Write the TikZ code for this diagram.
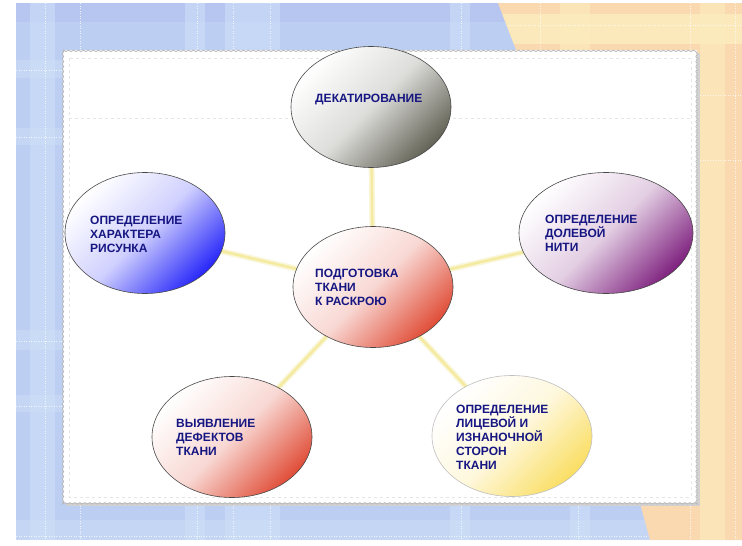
\documentclass[tikz,border=0pt]{standalone}
\usepackage{fontspec}
\setmainfont{Liberation Sans}
\usetikzlibrary{shapes.geometric,decorations.pathmorphing}
\pgfdeclarelayer{bg}
\pgfdeclarelayer{lines}
\pgfsetlayers{bg,lines,main}
\definecolor{txt}{RGB}{22,22,130}
\definecolor{bgblue}{RGB}{188,207,242}
\definecolor{bgblueL}{RGB}{206,222,248}
\definecolor{bgblueD}{RGB}{178,192,240}
\definecolor{peach}{RGB}{250,216,176}
\definecolor{peachL}{RGB}{252,236,190}
\definecolor{conncol}{RGB}{244,234,160}
\definecolor{connglow}{RGB}{250,246,218}
\definecolor{cgrey}{RGB}{100,100,88}
\definecolor{cblue}{RGB}{40,40,250}
\definecolor{cpurple}{RGB}{128,36,128}
\definecolor{cred}{RGB}{224,78,56}
\definecolor{cyellow}{RGB}{250,222,100}
\tikzset{
  bub/.style={ellipse, draw=black!72, line width=0.6pt, inner sep=0pt,
    minimum width=160pt, minimum height=121pt,
    top color=white, bottom color=#1, middle color=#1!22!white, shading angle=45},
  lbl/.style={font=\bfseries\fontsize{12pt}{14pt}\selectfont, text=txt,
    align=left, inner sep=0pt, anchor=west},
  conn/.style={conncol, line width=2.6pt},
  glow/.style={connglow, line width=6pt},
  plaid/.style={white, opacity=0.75, line width=1pt, dash pattern=on 1pt off 1.5pt}
}
\begin{document}
\begin{tikzpicture}[x=1pt,y=-1pt]
\useasboundingbox (0,0) rectangle (742,546);
\begin{pgfonlayer}{bg}
  \fill[white] (0,0) rectangle (742,546);
  % blue plaid background
  \fill[bgblue] (16,3) rectangle (742,540);
  \fill[bgblueD, opacity=0.6] (16,3) rectangle (742,22);
  \foreach \a/\b in {30/55,185/205,225/280,450/470,570/590}
    \fill[bgblueL, opacity=0.6] (\a,3) rectangle (\b,540);
  \foreach \a/\b in {60/78,128/145,330/350,395/412,520/540}
    \fill[bgblueL, opacity=0.5] (16,\a) rectangle (742,\b);
  \foreach \x in {45,80,197,233,270,461,578}
    \draw[plaid] (\x,3) -- (\x,540);
  \foreach \y in {70,137,341,406,536}
    \draw[plaid] (16,\y) -- (742,\y);
  % peach region
  \fill[peach] (498,3) -- (742,3) -- (742,540) -- (650,540) -- (640,503)
     -- (520,60) -- cycle;
  \begin{scope}
    \clip (498,3) -- (742,3) -- (742,540) -- (650,540) -- (640,503) -- (520,60) -- cycle;
    \fill[peachL, opacity=0.8] (490,14) rectangle (742,44);
    \foreach \a/\b in {560/590,700/725}
      \fill[peachL, opacity=0.6] (\a,3) rectangle (\b,540);
    \foreach \x in {540,690,735}
      \draw[plaid] (\x,3) -- (\x,540);
    \foreach \y in {25,95,160}
      \draw[plaid] (490,\y) -- (742,\y);
  \end{scope}
  % white panel
  \fill[black!18] (66,53) rectangle (700,506);
  \fill[white] (63,50) rectangle (697,503);
  \draw[black!28, line width=0.8pt, decorate,
        decoration={snake, amplitude=0.7pt, segment length=5pt}]
        (63,50) rectangle (697,503);
  \draw[black!10, dashed, line width=0.6pt] (69,58) rectangle (691,497);
  \draw[black!10, dashed, line width=0.6pt] (69,118) -- (691,118);
\end{pgfonlayer}

% ellipses
\node[bub=cred] (c) at (373,287) {};
\node[bub=cgrey] (dek) at (371,107) {};
\node[bub=cblue] (har) at (145,233) {};
\node[bub=cpurple, minimum width=174pt] (dol) at (606,233) {};
\node[bub=cred] (vyy) at (232,437) {};
\node[bub=cyellow, draw=black!25] (lic) at (512,436) {};

% connectors
\begin{pgfonlayer}{lines}
  \foreach \n in {dek,har,dol,vyy,lic} {
    \draw[glow] (c.center) -- (\n.center);
  }
  \foreach \n in {dek,har,dol,vyy,lic} {
    \draw[conn] (c.center) -- (\n.center);
  }
\end{pgfonlayer}

% labels
\node[lbl] (tdek) at (315,100) {ДЕКАТИРОВАНИЕ};
\node[lbl] (thar) at (90,234) {ОПРЕДЕЛЕНИЕ\\ХАРАКТЕРА\\РИСУНКА};
\node[lbl] (tdol) at (545,233) {ОПРЕДЕЛЕНИЕ\\ДОЛЕВОЙ\\НИТИ};
\node[lbl] (tc) at (315,287) {ПОДГОТОВКА\\ТКАНИ\\К РАСКРОЮ};
\node[lbl] (tvyy) at (176,437) {ВЫЯВЛЕНИЕ\\ДЕФЕКТОВ\\ТКАНИ};
\node[lbl] (tlic) at (456,437) {ОПРЕДЕЛЕНИЕ\\ЛИЦЕВОЙ И\\ИЗНАНОЧНОЙ\\СТОРОН\\ТКАНИ};
\end{tikzpicture}
\end{document}
